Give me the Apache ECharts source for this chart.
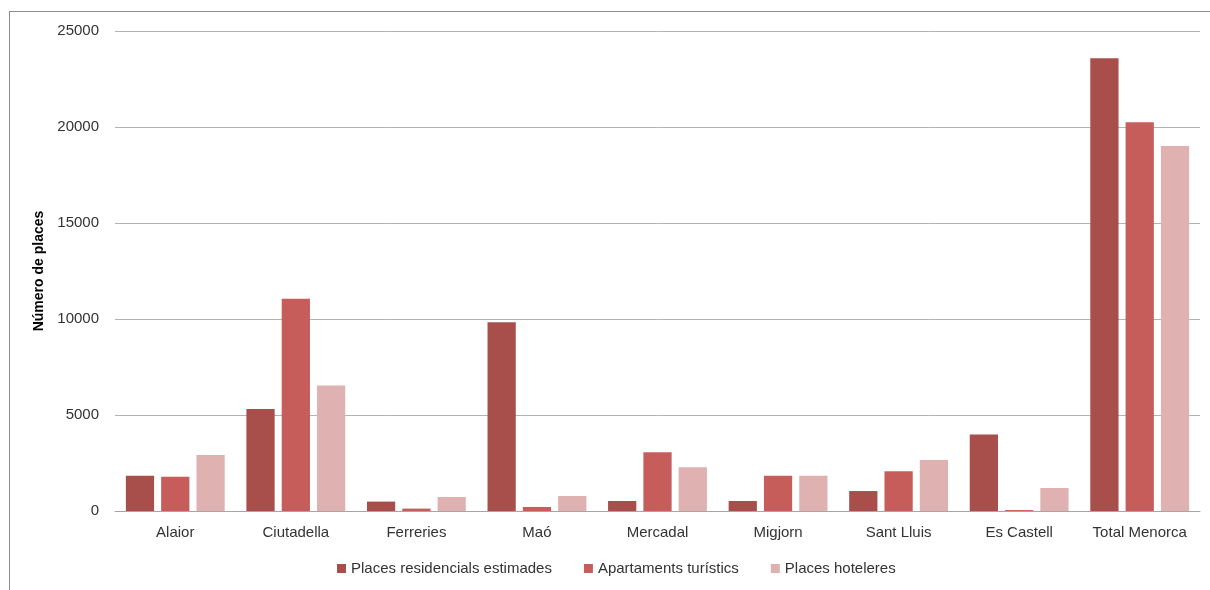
<!DOCTYPE html>
<html>
<head>
<meta charset="utf-8">
<script src="https://cdn.jsdelivr.net/npm/echarts@6/dist/echarts.min.js"></script>
<style>
  html, body { margin: 0; padding: 0; background: #fff; overflow: hidden; }
  #wrap { position: relative; width: 1210px; height: 590px; }
  #frame { position: absolute; left: 9px; top: 11px; width: 1220px; height: 600px; border: 1px solid #8c8c8c; box-sizing: border-box; }
  #chart { position: absolute; left: 0; top: 0; width: 1210px; height: 590px; }
</style>
</head>
<body>
<div id="wrap">
  <div id="frame"></div>
  <div id="chart"></div>
</div>
<script>
// municipis
const categories = ["Alaior", "Ciutadella", "Ferreries", "Maó", "Mercadal", "Migjorn", "Sant Lluis", "Es Castell", "Total Menorca"];

// dades (llegides del gràfic)
const residencials = [1840, 5310, 490, 9830, 520, 520, 1040, 3990, 23580];
const apartaments = [1790, 11060, 125, 210, 3055, 1840, 2070, 50, 20250];
const hoteleres = [2920, 6530, 730, 780, 2275, 1840, 2660, 1200, 19010];

const seriesNames = ["Places residencials estimades", "Apartaments turístics", "Places hoteleres"];
const colors = ["#a84e4b", "#c75d5a", "#dfb1b1"];

const font = "'Liberation Sans', Arial, sans-serif";

const chart = echarts.init(document.getElementById("chart"));

const mkSeries = (name, data, color) => ({
  name: name,
  type: "bar",
  data: data,
  barGap: "25%",
  barCategoryGap: "18%",
  itemStyle: { color: color },
  emphasis: { disabled: true },
});

chart.setOption({
  animation: false,
  textStyle: { fontFamily: font },
  color: colors,
  grid: { left: 115, right: 10, top: 31, bottom: 79, containLabel: false },
  legend: {
    left: 332,
    top: 556,
    itemWidth: 9,
    itemHeight: 9,
    itemGap: 32,
    icon: "rect",
    textStyle: { fontFamily: font, fontSize: 15, color: "#333" },
    data: seriesNames,
  },
  xAxis: {
    type: "category",
    data: categories,
    axisLine: { lineStyle: { color: "#a6a6a6", width: 1 } },
    axisTick: { show: false },
    axisLabel: { fontFamily: font, fontSize: 15, color: "#333", margin: 14, interval: 0 },
  },
  yAxis: {
    type: "value",
    min: 0,
    max: 25000,
    interval: 5000,
    name: "Número de places",
    nameLocation: "middle",
    nameGap: 66,
    nameTextStyle: { fontFamily: font, fontSize: 14, fontWeight: "bold", color: "#000" },
    axisLine: { show: false },
    axisTick: { show: false },
    axisLabel: { fontFamily: font, fontSize: 15, color: "#333", margin: 16, formatter: (v) => String(v) },
    splitLine: { lineStyle: { color: "#b3b3b3", width: 1 } },
  },
  series: [
    mkSeries(seriesNames[0], residencials, colors[0]),
    mkSeries(seriesNames[1], apartaments, colors[1]),
    mkSeries(seriesNames[2], hoteleres, colors[2]),
  ],
});
</script>
</body>
</html>
